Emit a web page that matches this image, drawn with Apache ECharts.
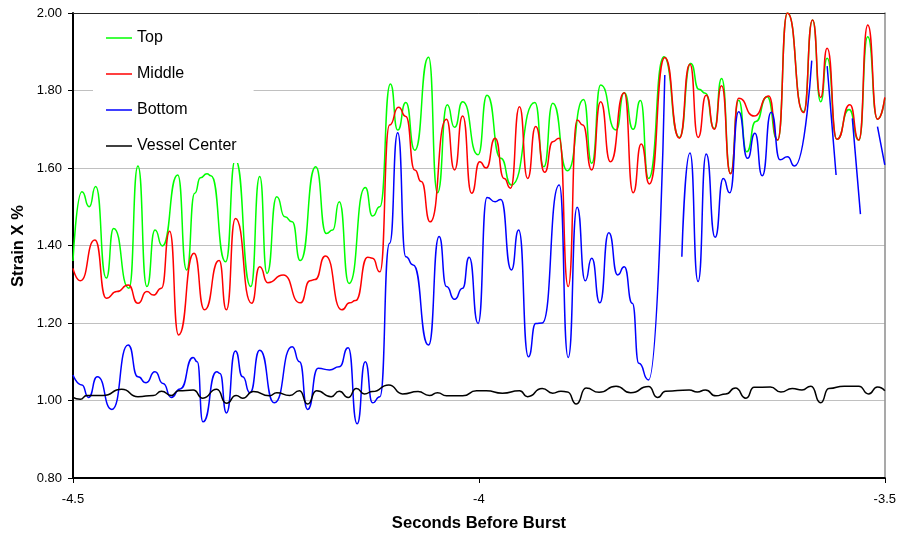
<!DOCTYPE html>
<html>
<head>
<meta charset="utf-8">
<script src="https://cdn.jsdelivr.net/npm/echarts@6/dist/echarts.min.js"></script>
<style>
  html, body { margin: 0; padding: 0; background: #ffffff; }
  #chart { width: 899px; height: 533px; }
</style>
</head>
<body>
<div id="chart"></div>
<script>
// Strain readings (%) against seconds before burst, one pair of arrays per gauge.
const topTime = [-4.500, -4.489, -4.480, -4.472, -4.459, -4.450, -4.431, -4.420, -4.409, -4.399,
  -4.390, -4.371, -4.360, -4.350, -4.343, -4.335, -4.330, -4.312, -4.300, -4.281,
  -4.270, -4.261, -4.249, -4.239, -4.230, -4.220, -4.201, -4.188, -4.180, -4.172,
  -4.160, -4.140, -4.131, -4.122, -4.109, -4.100, -4.090, -4.079, -4.062, -4.051,
  -4.039, -4.030, -4.020, -4.001, -3.990, -3.973, -3.960, -3.931, -3.920, -3.909,
  -3.891, -3.871, -3.861, -3.850, -3.831, -3.821, -3.810, -3.801, -3.791, -3.772,
  -3.753, -3.739, -3.729, -3.721, -3.710, -3.701, -3.690, -3.680, -3.670, -3.659,
  -3.645, -3.632, -3.620, -3.600, -3.589, -3.579, -3.571, -3.559, -3.544, -3.532,
  -3.521, -3.509, -3.500];
const topStrain = [1.36, 1.539, 1.50, 1.552, 1.316, 1.444, 1.29, 1.605, 1.294, 1.44,
  1.399, 1.582, 1.337, 1.535, 1.575, 1.585, 1.58, 1.358, 1.621, 1.294,
  1.578, 1.328, 1.526, 1.474, 1.461, 1.361, 1.603, 1.431, 1.44, 1.513,
  1.302, 1.55, 1.476, 1.50, 1.817, 1.698, 1.769, 1.646, 1.886, 1.536,
  1.763, 1.705, 1.771, 1.634, 1.788, 1.625, 1.556, 1.769, 1.603, 1.767,
  1.593, 1.777, 1.612, 1.814, 1.698, 1.794, 1.70, 1.774, 1.573, 1.887,
  1.679, 1.87, 1.803, 1.793, 1.702, 1.831, 1.586, 1.775, 1.642, 1.72,
  1.784, 1.672, 2.0, 1.745, 1.982, 1.771, 1.883, 1.674, 1.751, 1.672,
  1.939, 1.726, 1.78];

const middleTime = [-4.500, -4.491, -4.473, -4.459, -4.446, -4.432, -4.420, -4.409, -4.401, -4.391,
  -4.381, -4.370, -4.351, -4.338, -4.320, -4.311, -4.300, -4.280, -4.270, -4.260,
  -4.241, -4.220, -4.208, -4.202, -4.189, -4.169, -4.159, -4.152, -4.137, -4.131,
  -4.122, -4.110, -4.099, -4.090, -4.079, -4.071, -4.060, -4.040, -4.030, -4.020,
  -4.009, -3.999, -3.991, -3.980, -3.969, -3.961, -3.950, -3.940, -3.930, -3.919,
  -3.909, -3.901, -3.890, -3.879, -3.872, -3.861, -3.850, -3.838, -3.821, -3.810,
  -3.800, -3.790, -3.771, -3.753, -3.740, -3.730, -3.720, -3.710, -3.701, -3.690,
  -3.680, -3.661, -3.643, -3.632, -3.620, -3.600, -3.589, -3.579, -3.571, -3.559,
  -3.543, -3.532, -3.521, -3.509, -3.500];
const middleStrain = [1.341, 1.309, 1.414, 1.264, 1.281, 1.298, 1.251, 1.281, 1.272, 1.29,
  1.437, 1.169, 1.38, 1.234, 1.361, 1.234, 1.47, 1.251, 1.345, 1.304,
  1.324, 1.252, 1.309, 1.312, 1.373, 1.234, 1.252, 1.258, 1.37, 1.367,
  1.332, 1.711, 1.757, 1.733, 1.595, 1.565, 1.461, 1.726, 1.595, 1.734,
  1.535, 1.616, 1.60, 1.677, 1.573, 1.548, 1.758, 1.573, 1.707, 1.589,
  1.668, 1.677, 1.294, 1.724, 1.711, 1.595, 1.771, 1.616, 1.794, 1.536,
  1.662, 1.559, 1.885, 1.677, 1.868, 1.679, 1.788, 1.70, 1.812, 1.585,
  1.78, 1.734, 1.786, 1.672, 2.0, 1.743, 1.982, 1.782, 1.909, 1.674,
  1.763, 1.672, 1.969, 1.726, 1.782];

// null marks a dropout in the bottom gauge signal
const bottomTime = [-4.500, -4.489, -4.481, -4.470, -4.452, -4.432, -4.420, -4.410, -4.399, -4.389,
  -4.379, -4.368, -4.352, -4.347, -4.340, -4.323, -4.319, -4.311, -4.300, -4.291,
  -4.282, -4.270, -4.252, -4.230, -4.221, -4.211, -4.198, -4.184, -4.172, -4.161,
  -4.150, -4.140, -4.131, -4.122, -4.110, -4.100, -4.090, -4.081, -4.062, -4.049,
  -4.040, -4.030, -4.020, -4.012, -4.001, -3.990, -3.980, -3.973, -3.960, -3.951,
  -3.939, -3.930, -3.922, -3.901, -3.890, -3.879, -3.869, -3.861, -3.851, -3.840,
  -3.829, -3.821, -3.811, -3.803, -3.791, -3.771, -3.760, -3.750, -3.740, -3.730,
  -3.720, -3.709, -3.699, -3.691, -3.680, -3.669, -3.660, -3.651, -3.640, -3.629,
  -3.620, -3.611, -3.590, -3.580, -3.571, -3.560, -3.550, -3.540, -3.530, -3.520,
  -3.509, -3.500];
const bottomStrain = [1.066, 1.04, 1.008, 1.061, 0.977, 1.143, 1.061, 1.046, 1.074, 1.044,
  1.008, 1.03, 1.111, 1.10, 0.945, 1.074, 1.07, 0.968, 1.128, 1.061,
  1.02, 1.13, 0.994, 1.139, 1.10, 0.977, 1.083, 1.079, 1.087, 1.136,
  0.94, 1.10, 0.994, 1.01, 1.406, 1.691, 1.371, 1.35, 1.143, 1.423,
  1.294, 1.261, 1.29, 1.37, 1.199, 1.524, 1.513, 1.519, 1.337, 1.44,
  1.113, 1.199, 1.20, 1.556, 1.111, 1.499, 1.309, 1.367, 1.252, 1.433,
  1.324, 1.345, 1.251, 1.096, 1.053, 1.84, null, 1.371, 1.639, 1.307,
  1.636, 1.421, 1.573, 1.536, 1.745, 1.625, 1.69, 1.58, 1.744, 1.621,
  1.629, 1.605, 1.877, null, 1.863, 1.582, null, 1.728, 1.481, null,
  1.707, 1.608];

const centerTime = [-4.500, -4.491, -4.483, -4.463, -4.440, -4.420, -4.401, -4.391, -4.379, -4.370,
  -4.352, -4.340, -4.323, -4.311, -4.299, -4.291, -4.278, -4.258, -4.249, -4.233,
  -4.221, -4.211, -4.200, -4.182, -4.172, -4.161, -4.151, -4.141, -4.131, -4.111,
  -4.094, -4.075, -4.061, -4.051, -4.040, -4.020, -4.003, -3.991, -3.971, -3.950,
  -3.940, -3.922, -3.909, -3.899, -3.891, -3.880, -3.868, -3.852, -3.831, -3.813,
  -3.791, -3.780, -3.770, -3.741, -3.731, -3.721, -3.708, -3.696, -3.684, -3.671,
  -3.661, -3.641, -3.628, -3.614, -3.602, -3.591, -3.579, -3.569, -3.550, -3.532,
  -3.520, -3.509, -3.500];
const centerStrain = [1.008, 1.003, 1.013, 1.013, 1.029, 1.01, 1.013, 1.024, 1.013, 1.025,
  1.027, 1.006, 1.029, 0.993, 1.013, 1.006, 1.023, 1.012, 1.02, 1.013,
  1.025, 0.991, 1.025, 1.01, 1.024, 1.008, 1.031, 1.017, 1.023, 1.04,
  1.017, 1.023, 1.013, 1.02, 1.012, 1.012, 1.025, 1.025, 1.019, 1.025,
  1.01, 1.031, 1.019, 1.024, 1.022, 0.991, 1.032, 1.021, 1.037, 1.02,
  1.036, 1.008, 1.024, 1.027, 1.022, 1.027, 1.012, 1.017, 1.032, 1.006,
  1.034, 1.035, 1.022, 1.031, 1.027, 1.037, 0.994, 1.031, 1.037, 1.037,
  1.017, 1.035, 1.025];

const seriesNames = ['Top', 'Middle', 'Bottom', 'Vessel Center'];
const seriesColors = ['#00ff00', '#ff0000', '#0000ff', '#000000'];
const xTicks = { min: -4.5, max: -3.5, step: 0.5 };
const yTicks = { min: 0.8, max: 2.0, step: 0.2 };

const FONT = '"Liberation Sans", Arial, Helvetica, sans-serif';

function pairs(times, values) {
  return times.map((t, i) => [t, values[i] === null ? '-' : values[i]]);
}

const seriesData = [
  pairs(topTime, topStrain),
  pairs(middleTime, middleStrain),
  pairs(bottomTime, bottomStrain),
  pairs(centerTime, centerStrain)
];

const chart = echarts.init(document.getElementById('chart'), null, { renderer: 'canvas' });

const option = {
  animation: false,
  backgroundColor: '#ffffff',
  grid: { left: 73, right: 13, top: 13, bottom: 55 },
  legend: {
    orient: 'vertical',
    left: 93,
    top: 18,
    padding: [11, 17, 8, 13],
    backgroundColor: '#ffffff',
    icon: 'rect',
    itemWidth: 26,
    itemHeight: 1.5,
    itemGap: 18,
    textStyle: { fontFamily: FONT, fontSize: 16, color: '#000', lineHeight: 18 },
    data: seriesNames
  },
  xAxis: [
    {
      type: 'value',
      min: xTicks.min, max: xTicks.max, interval: xTicks.step,
      axisLine: { show: true, onZero: false, lineStyle: { color: '#000', width: 2 } },
      axisTick: { show: true, length: 5, lineStyle: { color: '#000', width: 1 } },
      axisLabel: { margin: 15, fontFamily: FONT, fontSize: 13, color: '#000' },
      splitLine: { show: false }
    },
    {
      type: 'value', position: 'top',
      min: xTicks.min, max: xTicks.max, interval: xTicks.step,
      axisLine: { show: true, onZero: false, lineStyle: { color: '#262626', width: 1 } },
      axisTick: { show: false }, axisLabel: { show: false }, splitLine: { show: false }
    }
  ],
  yAxis: [
    {
      type: 'value',
      min: yTicks.min, max: yTicks.max, interval: yTicks.step,
      axisLine: { show: true, onZero: false, lineStyle: { color: '#000', width: 2 } },
      axisTick: { show: true, length: 5, lineStyle: { color: '#000', width: 1 } },
      axisLabel: {
        margin: 11, fontFamily: FONT, fontSize: 13, color: '#000',
        formatter: v => v.toFixed(2)
      },
      splitLine: { show: true, lineStyle: { color: '#c0c0c0', width: 1 } }
    },
    {
      type: 'value', position: 'right',
      min: yTicks.min, max: yTicks.max, interval: yTicks.step,
      axisLine: { show: true, onZero: false, lineStyle: { color: '#8c8c8c', width: 1.5 } },
      axisTick: { show: false }, axisLabel: { show: false }, splitLine: { show: false }
    }
  ],
  graphic: [
    {
      type: 'text', x: 479, y: 523,
      style: {
        text: 'Seconds Before Burst', font: 'bold 16.6px ' + FONT, fill: '#000',
        align: 'center', verticalAlign: 'middle', textAlign: 'center', textVerticalAlign: 'middle'
      }
    },
    {
      type: 'text', x: 18, y: 246, rotation: Math.PI / 2,
      style: {
        text: 'Strain X %', font: 'bold 16.6px ' + FONT, fill: '#000',
        align: 'center', verticalAlign: 'middle', textAlign: 'center', textVerticalAlign: 'middle'
      }
    }
  ],
  series: seriesNames.map((name, i) => ({
    name: name,
    type: 'line',
    xAxisIndex: 0,
    yAxisIndex: 0,
    data: seriesData[i],
    color: seriesColors[i],
    symbol: 'none',
    smooth: 0.6,
    smoothMonotone: 'x',
    connectNulls: false,
    lineStyle: { color: seriesColors[i], width: 1.5 },
    z: 2 + i
  }))
};

chart.setOption(option);
</script>
</body>
</html>
